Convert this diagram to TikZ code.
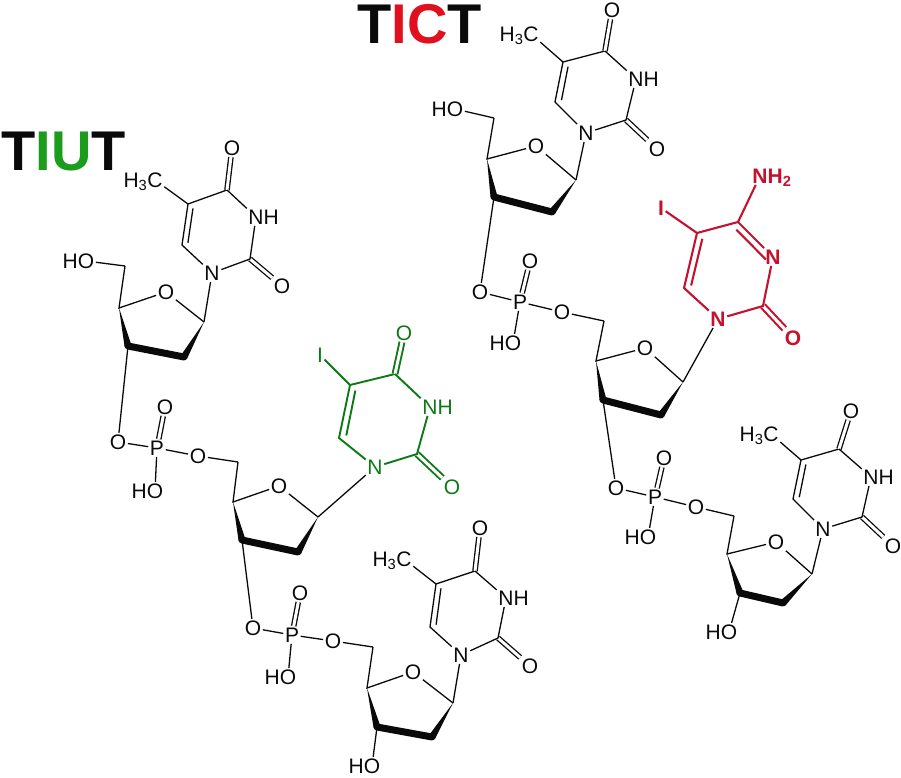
\documentclass[tikz,border=0pt]{standalone}
\usepackage{fontspec}
\setmainfont{Liberation Sans}
\usetikzlibrary{calc}
\definecolor{basegreen}{RGB}{12,122,20}
\definecolor{basered}{RGB}{196,18,46}
\definecolor{titlegreen}{RGB}{28,156,28}
\definecolor{titlered}{RGB}{224,16,30}
\definecolor{inkblack}{RGB}{10,10,10}
\tikzset{
    atom/.style={inner sep=1.5pt,font=\fontsize{21}{24}\selectfont},
    bond/.style={line width=1.3pt},
    dbl/.style={double,double distance=3pt},
    heading/.style={inner sep=0pt,font=\fontsize{56}{60}\selectfont\bfseries},
}
\newcommand{\wedgebond}[2]{\fill (#1) -- ($(#2)!3.5pt!90:(#1)$) -- ($(#2)!3.5pt!-90:(#1)$) -- cycle;}
% name, C5', C4', O, C1', C2', C3'
\newcommand{\sugarring}[7]{
    \coordinate (#1c5) at (#2);
    \coordinate (#1c4) at (#3);
    \node[atom] (#1o) at (#4) {O};
    \coordinate (#1c1) at (#5);
    \coordinate (#1c2) at (#6);
    \coordinate (#1c3) at (#7);
    \draw[bond] (#1c5) -- (#1c4) -- (#1o) -- (#1c1);
    \wedgebond{#1c4}{#1c3}
    \wedgebond{#1c1}{#1c2}
    \draw[line width=7pt,line cap=round] (#1c3) -- (#1c2);
}
% name, O3', P, =O, HO, O5'
\newcommand{\phosphate}[6]{
    \node[atom] (#1in) at (#2) {O};
    \node[atom] (#1p) at (#3) {P};
    \node[atom] (#1dbl) at (#4) {O};
    \node[atom] (#1oh) at (#5) {\llap{H}O};
    \node[atom] (#1out) at (#6) {O};
    \draw[bond] (#1in) -- (#1p) -- (#1out);
    \draw[bond] (#1p) -- (#1oh);
    \draw[bond,dbl] (#1p) -- (#1dbl);
}
% name, N1, C2, O2, N3, C4, C5, C6, N3 text
\newcommand{\basering}[9]{
    \node[atom] (#1n1) at (#2) {N};
    \coordinate (#1b2) at (#3);
    \node[atom] (#1o2) at (#4) {O};
    \node[atom] (#1n3) at (#5) {#9};
    \coordinate (#1b4) at (#6);
    \coordinate (#1b5) at (#7);
    \coordinate (#1b6) at (#8);
    \draw[bond,dbl] (#1b2) -- (#1o2);
    \draw[bond] (#1n3) -- (#1b2) -- (#1n1) -- (#1b6) -- (#1b5) -- (#1b4);
    \draw[bond] ($(#1b6)!.08!(#1n3)$) -- ($(#1b5)!.08!(#1b2)$);
}
% C4 carbonyl of a base
\newcommand{\oxo}[2]{
    \node[atom] (#1o4) at (#2) {O};
    \draw[bond,dbl] (#1b4) -- (#1o4);
    \draw[bond] (#1b4) -- (#1n3);
}
\newcommand{\methyl}[2]{
    \node[atom] (#1me) at (#2) {\llap{\smash{H\textsubscript{3}}}C};
    \draw[bond] (#1me) -- (#1b5);
}
\begin{document}
\begin{tikzpicture}[x=1pt,y=-1pt,color=inkblack]
    \useasboundingbox (0,0) rectangle (901,778);
    \node[heading] (tiut) at (63.5,152) {T\textcolor{titlegreen}{IU}T};
    \node[heading] (tict) at (419.5,24) {T\textcolor{titlered}{IC}T};

    % TIUT strand
    \basering{a}{212,273}{250,259}{282,286}{256,217}{227,190}{188,204}{182,245}{N\rlap{H}}
    \oxo{a}{232,148}
    \methyl{a}{155,180}
    \sugarring{a}{125,266}{119,308}{166,292}{204,322}{184,357}{128,346}
    \node[atom] (aoh) at (86,261) {\llap{H}O};
    \draw[bond] (aoh) -- (ac5);
    \draw[bond] (an1) -- (ac1);
    \phosphate{pa}{118,442}{157,448}{165,407}{155,491}{198,456}
    \draw[bond] (ac3) -- (pain);
    \sugarring{b}{238,462}{233,502}{279,486}{318,517}{298,552}{242,540}
    \draw[bond] (paout) -- (bc5);
    \begin{scope}[color=basegreen,bond/.append style={line width=1.9pt}]
        \basering{b}{375,467}{417,454}{452,487}{430,407}{395,374}{350,385}{339,438}{N\rlap{H}}
        \oxo{b}{404,333}
        \node[atom] (biodo) at (320,355) {I};
        \draw[bond] (biodo) -- (bb5);
    \end{scope}
    \draw[bond] (bn1) -- (bc1);
    \phosphate{pb}{253,628}{292,635}{300,593}{288,677}{333,641}
    \draw[bond] (bc3) -- (pbin);
    \sugarring{c}{373,647}{367,688}{413,672}{453,703}{432,737}{377,727}
    \draw[bond] (pbout) -- (cc5);
    \basering{c}{461,655}{498,638}{530,666}{506,598}{475,571}{436,584}{430,627}{N\rlap{H}}
    \oxo{c}{480,528}
    \methyl{c}{404,559}
    \draw[bond] (cn1) -- (cc1);
    \node[atom] (coh) at (372,766) {\llap{H}O};
    \draw[bond] (cc3) -- (coh);

    % TICT strand
    \basering{d}{586,133}{626,120}{657,149}{636,79}{605,51}{563,62}{555,102}{N\rlap{H}}
    \oxo{d}{612,10}
    \methyl{d}{531,34}
    \sugarring{d}{494,118}{487,159}{536,146}{576,180}{552,212}{494,197}
    \node[atom] (doh) at (455,109) {\llap{H}O};
    \draw[bond] (doh) -- (dc5);
    \draw[bond] (dn1) -- (dc1);
    \phosphate{pd}{480,292}{520,302}{530,261}{513,343}{562,312}
    \draw[bond] (dc3) -- (pdin);
    \sugarring{e}{604,321}{596,361}{645,348}{683,382}{661,415}{603,400}
    \draw[bond] (pdout) -- (ec5);
    \begin{scope}[color=basered,bond/.append style={line width=2.1pt},
        atom/.append style={font=\fontsize{21}{24}\selectfont\bfseries}]
        \basering{e}{718,319}{763,306}{793,338}{773,257}{738,222}{697,233}{684,288}{N}
        \node[atom] (enh) at (760,176) {N\rlap{\smash{H\textsubscript{2}}}};
        \node[atom] (eiodo) at (661,208) {I};
        \draw[bond] (enh) -- (eb4);
        \draw[bond] (eiodo) -- (eb5);
        \draw[bond] (eb4) -- (en3);
        \draw[bond] ($(eb4)!.08!(en1)$) -- ($(en3)!.08!(eb6)$);
    \end{scope}
    \draw[bond] (en1) -- (ec1);
    \phosphate{pe}{616,488}{655,497}{664,458}{648,537}{696,507}
    \draw[bond] (ec3) -- (pein);
    \sugarring{f}{734,516}{727,554}{776,542}{812,574}{783,603}{740,593}
    \draw[bond] (peout) -- (fc5);
    \basering{f}{823,529}{862,517}{893,546}{871,477}{839,449}{801,460}{793,499}{N\rlap{H}}
    \oxo{f}{851,411}
    \methyl{f}{771,434}
    \draw[bond] (fn1) -- (fc1);
    \node[atom] (foh) at (729,632) {\llap{H}O};
    \draw[bond] (fc3) -- (foh);
\end{tikzpicture}
\end{document}
